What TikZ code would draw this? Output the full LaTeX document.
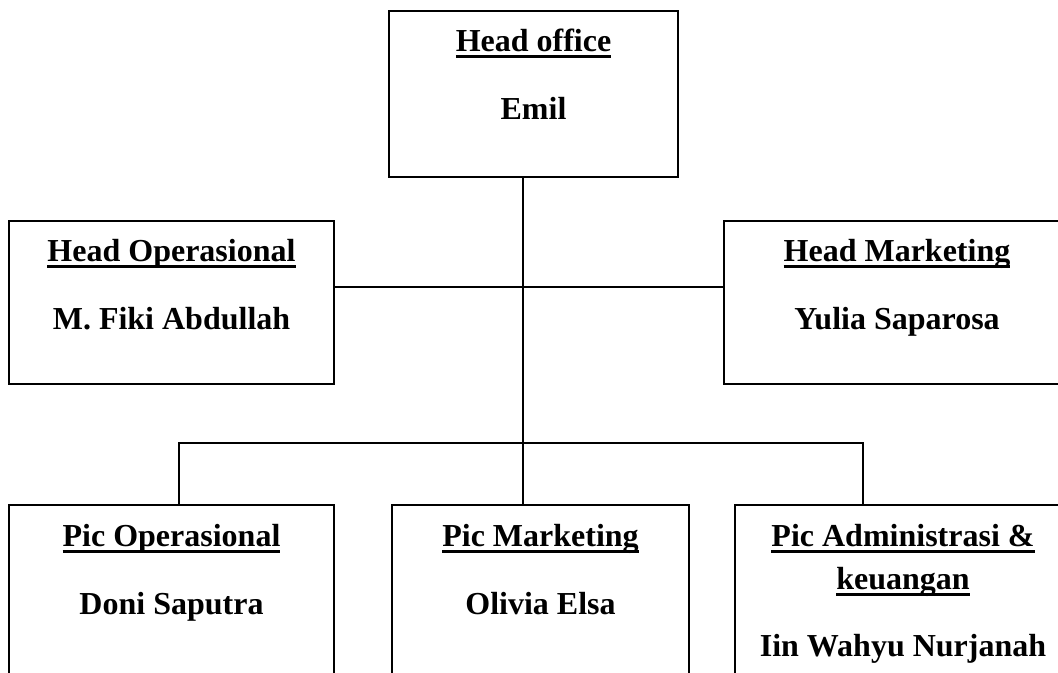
\documentclass[tikz,border=0pt]{standalone}
\usepackage{fontspec}
\setmainfont{Liberation Serif}
\usepackage{tikz}
\usetikzlibrary{fit}

\newcommand\ulword[1]{\setbox0=\hbox{#1}\rlap{\rule[-4.6pt]{\wd0}{2.3pt}}\box0}

\begin{document}
\begin{tikzpicture}[x=0.75pt, y=-0.75pt, line width=1.4pt,
    box/.style={draw, inner sep=0pt, fit={#1}},
    word/.style={font=\fontsize{24}{29}\selectfont\bfseries, anchor=base, inner sep=0pt}]
    \useasboundingbox (0,0) rectangle (1058,673);
    \clip (0,0) rectangle (1058,673);
    % boxes
    \node[box={(389,11) (678,177)}] (head) {};
    \node[box={(9,221) (334,384)}] (hops) {};
    \node[box={(724,221) (1070,384)}] (hmkt) {};
    \node[box={(9,505) (334,720)}] (pops) {};
    \node[box={(392,505) (689,720)}] (pmkt) {};
    \node[box={(735,505) (1071,720)}] (padm) {};
    % texts
    \node[word] (headT) at (533.5,51.7) {\ulword{Head office}};
    \node[word] (headN) at (533.5,120) {Emil};
    \node[word] (hopsT) at (171.5,262) {\ulword{Head Operasional}};
    \node[word] (hopsN) at (171.5,330) {M. Fiki Abdullah};
    \node[word] (hmktT) at (897,262) {\ulword{Head Marketing}};
    \node[word] (hmktN) at (897,330) {Yulia Saparosa};
    \node[word] (popsT) at (171.5,547) {\ulword{Pic Operasional}};
    \node[word] (popsN) at (171.5,615) {Doni Saputra};
    \node[word] (pmktT) at (540.5,547) {\ulword{Pic Marketing}};
    \node[word] (pmktN) at (540.5,615) {Olivia Elsa};
    \node[word] (padmT) at (903,547) {\ulword{Pic Administrasi \&}};
    \node[word] (padmK) at (903,590) {\ulword{keuangan}};
    \node[word] (padmN) at (903,657) {Iin Wahyu Nurjanah};
    % lines
    \coordinate (hub) at (523,287);
    \coordinate (bus) at (523,443);
    \coordinate (busL) at (179,443);
    \coordinate (busR) at (863,443);
    \draw (hub |- head.south) -- (bus |- pmkt.north);
    \draw (hub -| hops.east) -- (hub -| hmkt.west);
    \draw (busL |- pops.north) -- (busL) -- (busR) -- (busR |- padm.north);
\end{tikzpicture}
\end{document}
